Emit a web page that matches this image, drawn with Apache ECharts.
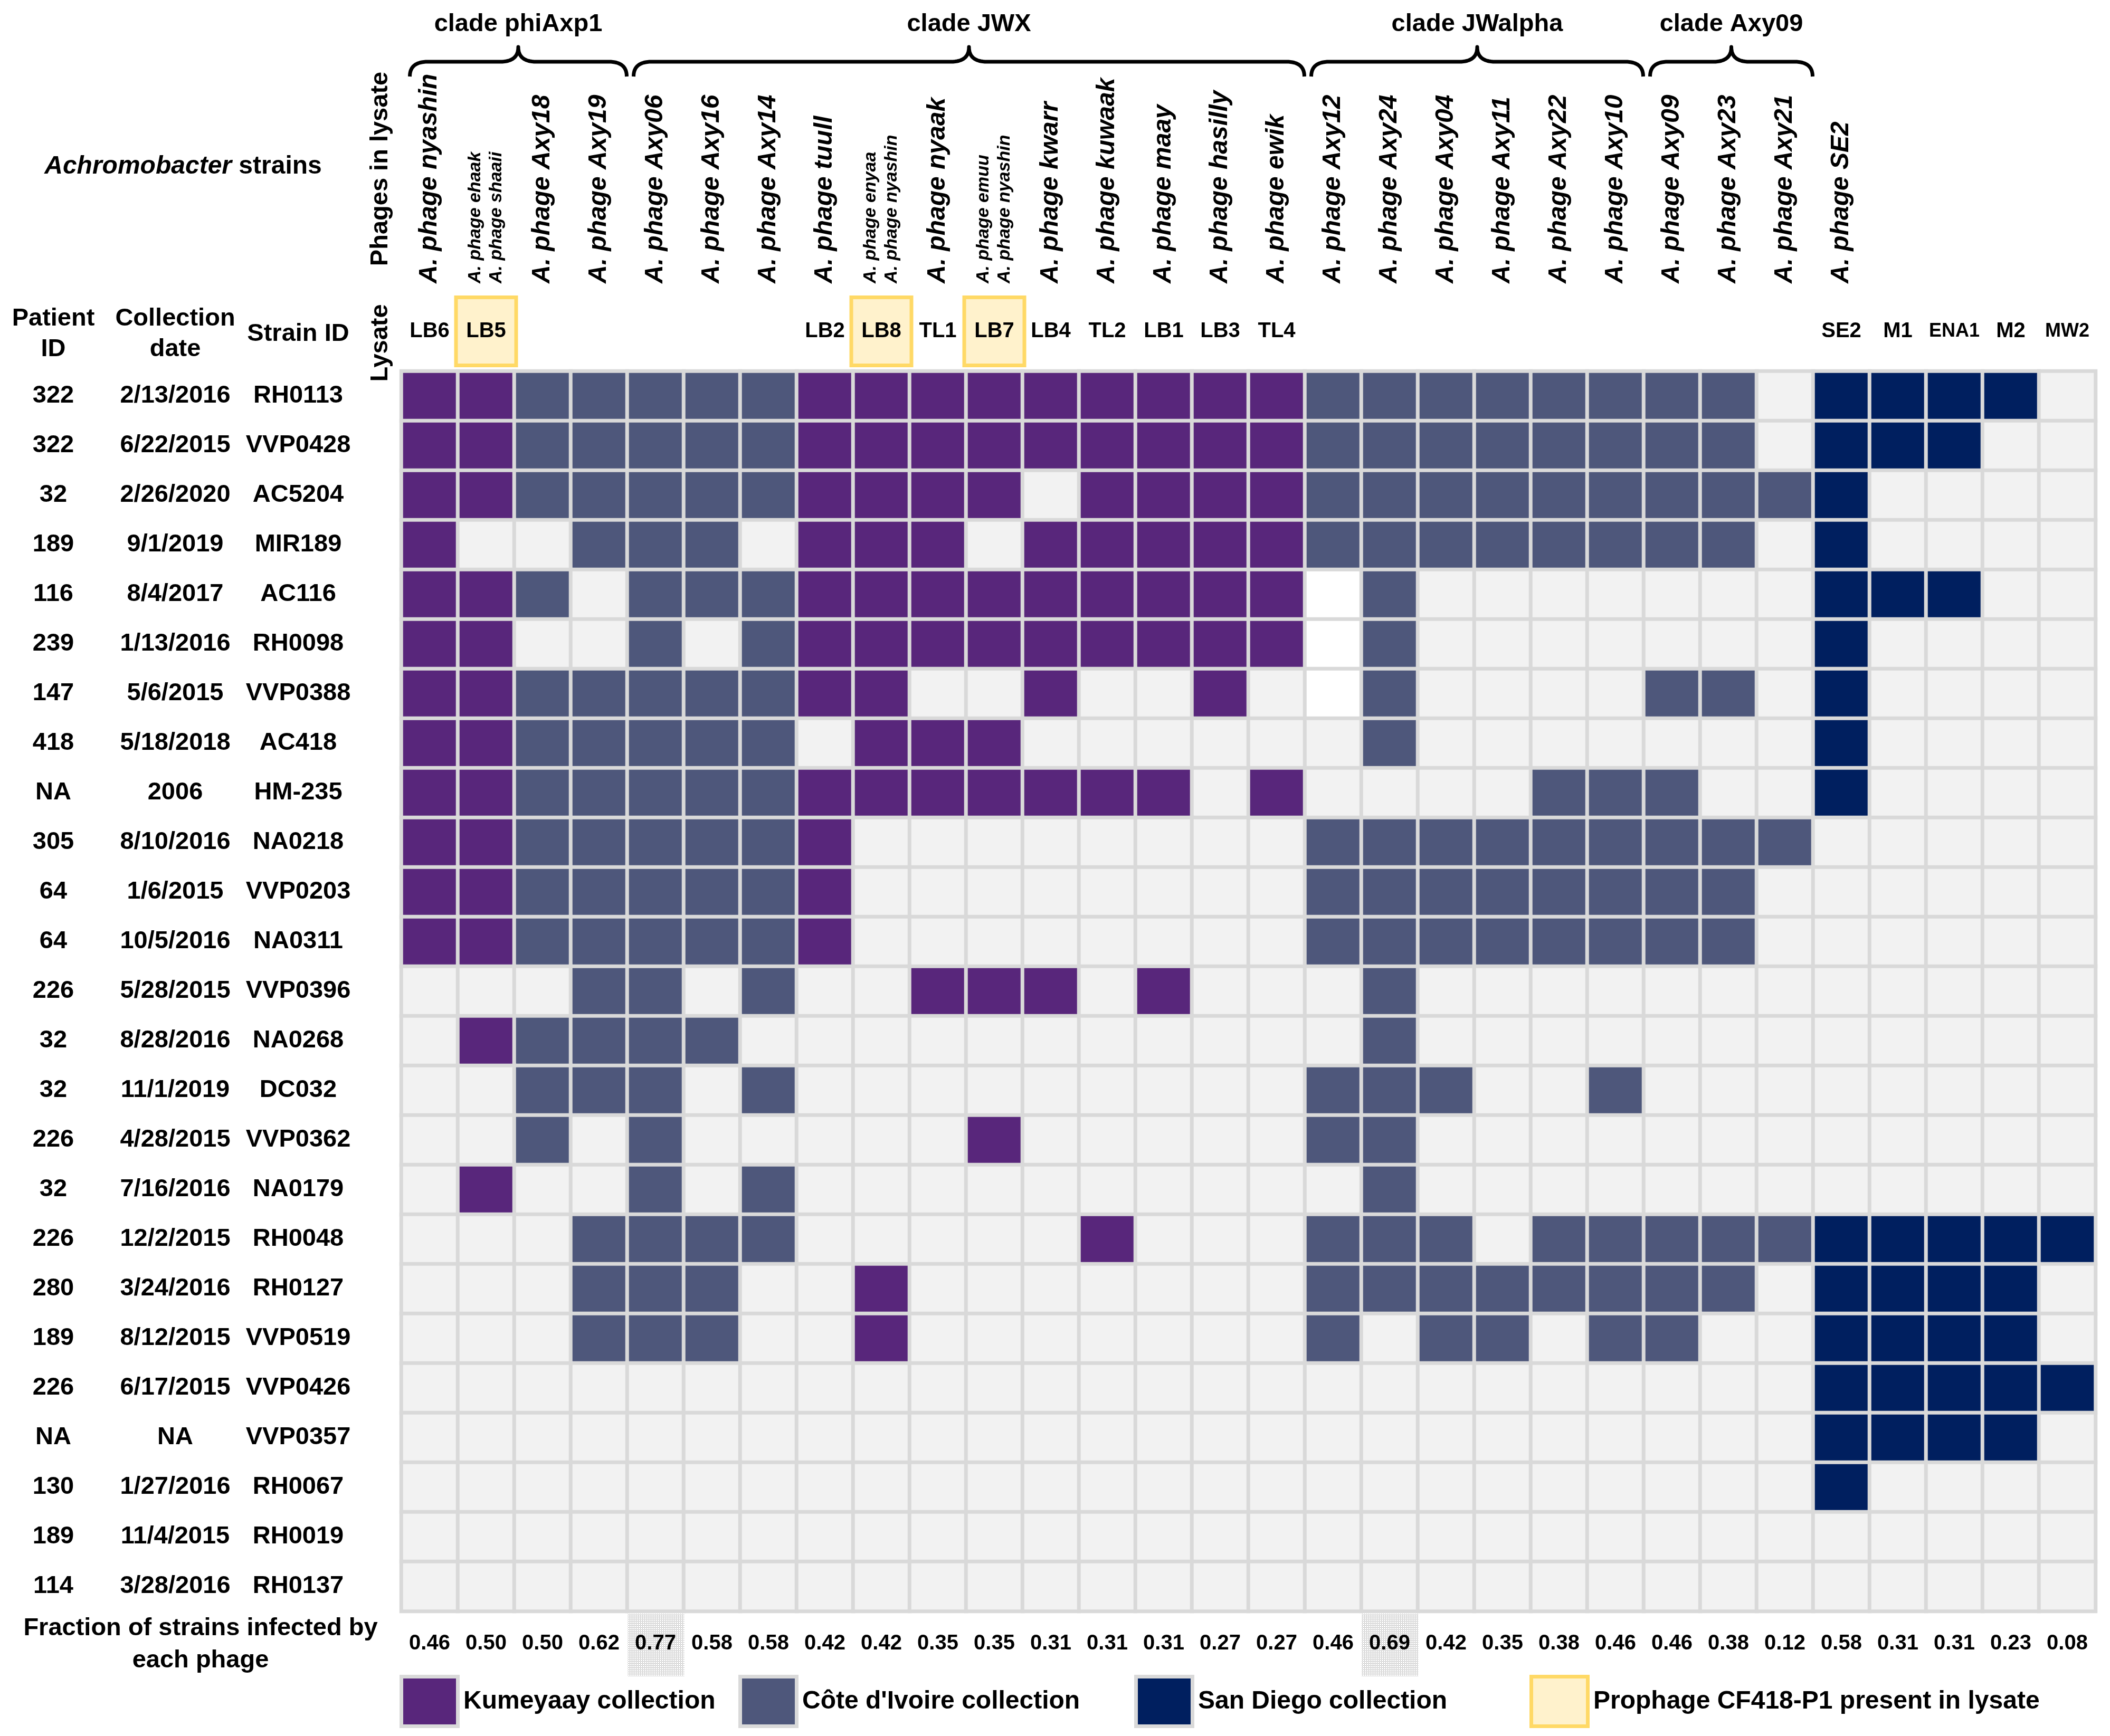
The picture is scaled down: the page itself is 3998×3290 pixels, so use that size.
<!DOCTYPE html>
<html><head><meta charset="utf-8">
<script src="https://cdn.jsdelivr.net/npm/echarts@6/dist/echarts.min.js"></script>
<style>html,body{margin:0;padding:0;background:#fff}#c{width:3998px;height:3290px}</style>
</head><body><div id="c"></div>
<script>
// ---------------- DATA ----------------
const lysates = ['LB6','LB5','','','','','','LB2','LB8','TL1','LB7','LB4','TL2','LB1','LB3','TL4','','','','','','','','','','SE2','M1','ENA1','M2','MW2'];
const phages = ['A. phage nyashin','A. phage ehaak\nA. phage shaaii','A. phage Axy18','A. phage Axy19','A. phage Axy06','A. phage Axy16','A. phage Axy14','A. phage tuull','A. phage enyaa\nA. phage nyashin','A. phage nyaak','A. phage emuu\nA. phage nyashin','A. phage kwarr','A. phage kuwaak','A. phage maay','A. phage hasilly','A. phage ewik','A. phage Axy12','A. phage Axy24','A. phage Axy04','A. phage Axy11','A. phage Axy22','A. phage Axy10','A. phage Axy09','A. phage Axy23','A. phage Axy21','A. phage SE2','','','',''];
const fractions = ['0.46','0.50','0.50','0.62','0.77','0.58','0.58','0.42','0.42','0.35','0.35','0.31','0.31','0.31','0.27','0.27','0.46','0.69','0.42','0.35','0.38','0.46','0.46','0.38','0.12','0.58','0.31','0.31','0.23','0.08'];
const patientIds = ['322','322','32','189','116','239','147','418','NA','305','64','64','226','32','32','226','32','226','280','189','226','NA','130','189','114'];
const dates = ['2/13/2016','6/22/2015','2/26/2020','9/1/2019','8/4/2017','1/13/2016','5/6/2015','5/18/2018','2006','8/10/2016','1/6/2015','10/5/2016','5/28/2015','8/28/2016','11/1/2019','4/28/2015','7/16/2016','12/2/2015','3/24/2016','8/12/2015','6/17/2015','NA','1/27/2016','11/4/2015','3/28/2016'];
const strains = ['RH0113','VVP0428','AC5204','MIR189','AC116','RH0098','VVP0388','AC418','HM-235','NA0218','VVP0203','NA0311','VVP0396','NA0268','DC032','VVP0362','NA0179','RH0048','RH0127','VVP0519','VVP0426','VVP0357','RH0067','RH0019','RH0137'];
// K = Kumeyaay, C = Cote d'Ivoire, S = San Diego, 0 = no infection, W = not tested (white)
const infection = [
  'KKCCCCCKKKKKKKKKCCCCCCCC0SSSS0',
  'KKCCCCCKKKKKKKKKCCCCCCCC0SSS00',
  'KKCCCCCKKKK0KKKKCCCCCCCCCS0000',
  'K00CCC0KKK0KKKKKCCCCCCCC0S0000',
  'KKC0CCCKKKKKKKKKWC0000000SSS00',
  'KK00C0CKKKKKKKKKWC0000000S0000',
  'KKCCCCCKK00K00K0WC0000CC0S0000',
  'KKCCCCC0KKK000000C0000000S0000',
  'KKCCCCCKKKKKKK0K0000CCC00S0000',
  'KKCCCCCK00000000CCCCCCCCC00000',
  'KKCCCCCK00000000CCCCCCCC000000',
  'KKCCCCCK00000000CCCCCCCC000000',
  '000CC0C00KKK0K000C000000000000',
  '0KCCCC00000000000C000000000000',
  '00CCC0C000000000CCC00C00000000',
  '00C0C00000K00000CC000000000000',
  '0K00C0C0000000000C000000000000',
  '000CCCC00000K000CCC0CCCCCSSSSS',
  '000CCC00K0000000CCCCCCCC0SSSS0',
  '000CCC00K0000000C0CC0CC00SSSS0',
  '0000000000000000000000000SSSSS',
  '0000000000000000000000000SSSS0',
  '0000000000000000000000000S0000',
  '000000000000000000000000000000',
  '000000000000000000000000000000'
];
const prophageLysates = ['LB5','LB8','LB7'];
const cladeNames = ['clade phiAxp1','clade JWX','clade JWalpha','clade Axy09'];
const cladeFirstCol = [0,4,16,22];
const cladeLastCol = [3,15,21,24];
const hatchedCols = [4,17];
const legendLabels = ['Kumeyaay collection',"Côte d'Ivoire collection",'San Diego collection','Prophage CF418-P1 present in lysate'];

// ---------------- STYLE / LAYOUT ----------------
const FONT = "'Liberation Sans', Arial, sans-serif";
const codeValue = {K:1, C:2, S:3, '0':0, W:-1};
const palette = {'1':'#58267b','2':'#4e577b','3':'#001f5f','0':'#f2f2f2','-1':'#ffffff'};
const legendColors = ['#58267b','#4e577b','#001f5f','#fff2cc'];
const legendBorders = ['#d9d9d9','#d9d9d9','#d9d9d9','#ffd966'];
const legendX = [760.5,1402.5,2152.5,2901.5];
const GL = 760.5, GT = 703.5, CW = 107, RH = 94;
const NC = lysates.length, NR = strains.length;
const smallLysates = ['ENA1','MW2'];

const data = [];
infection.forEach((row, r) => {
  row.split('').forEach((ch, c) => {
    const v = codeValue[ch];
    data.push({value:[c, r, v], itemStyle:{color: palette[String(v)]}});
  });
});

// dotted hatch pattern
const pc = document.createElement('canvas');
pc.width = 4; pc.height = 4;
const pctx = pc.getContext('2d');
pctx.fillStyle = '#ffffff'; pctx.fillRect(0,0,4,4);
pctx.fillStyle = '#7c7c7c'; pctx.fillRect(0,0,1,1); pctx.fillRect(2,0,1,1); pctx.fillRect(1,2,1,1);

const chart = echarts.init(document.getElementById('c'), null, {renderer:'canvas'});

const option = {
  animation: false,
  backgroundColor: '#ffffff',
  textStyle: {fontFamily: FONT},
  grid: {left: GL, top: GT, width: CW*NC, height: RH*NR, show: true, borderColor: '#d9d9d9', borderWidth: 7, backgroundColor: 'transparent', outerBoundsMode: 'none', containLabel: false},
  xAxis: [
    {type:'category', position:'top', data: lysates, axisLine:{show:false}, axisTick:{show:false}, splitLine:{show:false},
     axisLabel:{interval:0, hideOverlap:false, margin:75.5, verticalAlign:'middle', color:'#000', fontFamily:FONT, fontSize:40, fontWeight:'bold',
       formatter: v => prophageLysates.includes(v) ? '{hl|' + v + '}' : (smallLysates.includes(v) ? '{sm|' + v + '}' : v),
       rich:{
         hl:{backgroundColor:'#fff2cc', borderColor:'#ffd966', borderWidth:7, width:107, height:122, lineHeight:122, align:'center', verticalAlign:'middle', fontSize:40, fontWeight:'bold', fontFamily:FONT, color:'#000'},
         sm:{fontSize:36, fontWeight:'bold', fontFamily:FONT, color:'#000'}
       }}},
    {type:'category', position:'bottom', data: fractions, axisLine:{show:false}, axisTick:{show:false}, splitLine:{show:false},
     axisLabel:{interval:0, hideOverlap:false, margin:61.5, verticalAlign:'middle', color:'#000', fontFamily:FONT, fontSize:40, fontWeight:'bold'}}
  ],
  yAxis: [
    {type:'category', inverse:true, position:'left', data: strains, axisLine:{show:false}, axisTick:{show:false}, splitLine:{show:false},
     axisLabel:{interval:0, hideOverlap:false, margin:195.5, align:'center', color:'#000', fontFamily:FONT, fontSize:47, fontWeight:'bold'}},
    {type:'category', inverse:true, position:'left', data: dates, axisLine:{show:false}, axisTick:{show:false}, splitLine:{show:false},
     axisLabel:{interval:0, hideOverlap:false, margin:428.5, align:'center', color:'#000', fontFamily:FONT, fontSize:47, fontWeight:'bold'}},
    {type:'category', inverse:true, position:'left', data: patientIds, axisLine:{show:false}, axisTick:{show:false}, splitLine:{show:false},
     axisLabel:{interval:0, hideOverlap:false, margin:659.5, align:'center', color:'#000', fontFamily:FONT, fontSize:47, fontWeight:'bold'}}
  ],
  series: [{
    type:'heatmap', xAxisIndex:0, yAxisIndex:0, data: data,
    itemStyle:{borderColor:'#d9d9d9', borderWidth:7},
    emphasis:{disabled:true}, label:{show:false}, silent:true
  }]
};
chart.setOption(option);

// ---------- decorations placed with the chart's own scales ----------
function colCenter(c){ return chart.convertToPixel({xAxisIndex:0}, c); }
const gBottom = GT + RH*NR;
const graphics = [];
const baseText = {fill:'#000', fontFamily:FONT, fontSize:47, fontWeight:'bold', align:'center', verticalAlign:'middle'};
const T = (x, y, text, extra, rot) => ({type:'text', x:x, y:y, rotation:rot||0, style:Object.assign({}, baseText, {text:text}, extra||{})});

graphics.push(T(347, 316, '{i|Achromobacter} strains', {fontSize:48, rich:{i:{fontFamily:FONT, fontSize:48, fontWeight:'bold', fontStyle:'italic', fill:'#000'}}}));
graphics.push(T(101, 633, 'Patient\nID', {lineHeight:58}));
graphics.push(T(332, 633, 'Collection\ndate', {lineHeight:58}));
graphics.push(T(565, 633, 'Strain ID'));
graphics.push(T(721, 320, 'Phages in lysate', {}, Math.PI/2));
graphics.push(T(721, 650, 'Lysate', {}, Math.PI/2));
graphics.push(T(380, 3117, 'Fraction of strains infected by\neach phage', {lineHeight:61}));

// phage names (rotated, reading upward, starting just above the lysate row)
phages.forEach((name, c) => {
  if (!name) return;
  const two = name.indexOf('\n') >= 0;
  const txt = two ? name.split('\n').map(s => '{s|' + s + '}').join('\n') : '{b|' + name + '}';
  graphics.push({type:'text', x:colCenter(c), y:537, rotation:Math.PI/2, style:{text:txt, fill:'#000', fontFamily:FONT, align:'left', verticalAlign:'middle',
    rich:{b:{fontFamily:FONT, fontSize:48, fontWeight:'bold', fontStyle:'italic', fill:'#000'},
          s:{fontFamily:FONT, fontSize:34, fontWeight:'bold', fontStyle:'italic', fill:'#000', lineHeight:40}}}});
});

// dotted backgrounds behind selected fractions
hatchedCols.forEach(c => {
  graphics.push({type:'rect', z:-1, shape:{x:colCenter(c)-CW/2+1, y:gBottom+5, width:CW, height:118}, style:{fill:{image:pc, repeat:'repeat'}}});
});

// clade braces
function quad(p0, p1, p2, n){ const pts=[]; for(let i=0;i<=n;i++){const t=i/n,u=1-t; pts.push([u*u*p0[0]+2*u*t*p1[0]+t*t*p2[0], u*u*p0[1]+2*u*t*p1[1]+t*t*p2[1]]);} return pts; }
cladeNames.forEach((name, i) => {
  const xs = colCenter(cladeFirstCol[i]) - CW/2 + (i === 0 ? 16 : 12);
  const xe = colCenter(cladeLastCol[i]) + CW/2 - 1;
  const xm = (xs + xe) / 2;
  const yb = 145, yh = 117, yt = 89, r = 34;
  let pts = [];
  pts = pts.concat(quad([xs,yb],[xs,yh],[xs+r,yh],16));
  pts = pts.concat(quad([xm-r,yh],[xm,yh],[xm,yt],16));
  pts = pts.concat(quad([xm,yt],[xm,yh],[xm+r,yh],16).slice(1));
  pts = pts.concat(quad([xe-r,yh],[xe,yh],[xe,yb],16));
  graphics.push({type:'polyline', shape:{points:pts}, style:{fill:null, stroke:'#000', lineWidth:7, lineJoin:'round'}});
  graphics.push(T(xm, 46, name));
});

// legend
legendLabels.forEach((lab, i) => {
  graphics.push({type:'rect', shape:{x:legendX[i], y:3177.5, width:107, height:94}, style:{fill:legendColors[i], stroke:legendBorders[i], lineWidth:7}});
  graphics.push(T(legendX[i] + 117.5, 3225, lab, {fontSize:48, align:'left'}));
});

chart.setOption({graphic:{elements:graphics}});
</script>
</body></html>
